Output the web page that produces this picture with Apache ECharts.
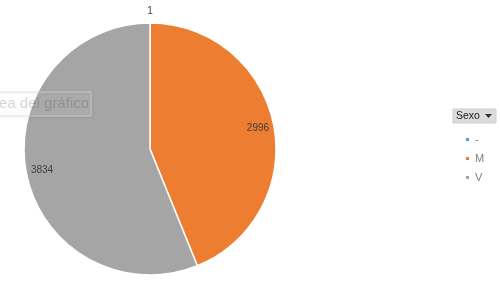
<!DOCTYPE html>
<html>
<head>
<meta charset="utf-8">
<script src="https://cdn.jsdelivr.net/npm/echarts@6/dist/echarts.min.js"></script>
<style>html,body{margin:0;padding:0;background:#fff}#c{width:500px;height:297px}</style>
</head>
<body>
<div id="c"></div>
<script>
const categories = ['-', 'M', 'V'];
const values = [1, 2996, 3834];
const colors = ['#5B9BD5', '#ED7D31', '#A5A5A5'];
const legendTitle = 'Sexo';
const ghostText = 'ea del gráfico';

const chart = echarts.init(document.getElementById('c'), null, {renderer: 'canvas'});

const labelFont = {fontFamily: 'Liberation Sans, Arial', fontSize: 10, color: '#404040'};

const mainData = categories.map((c, i) => ({name: c, value: values[i], itemStyle: {color: colors[i]}}));
// inner labels (large slices)
const innerLabelData = categories.map((c, i) => ({name: c, value: values[i], label: {show: values[i] > 10}}));
// outer label (tiny slice)
const outerLabelData = categories.map((c, i) => ({name: c, value: values[i], label: {show: values[i] <= 10}}));

const labelSeries = (r, data) => ({
  type: 'pie', center: [150, 149], radius: [0, r],
  startAngle: 90, clockwise: true, avoidLabelOverlap: false,
  itemStyle: {color: 'rgba(0,0,0,0)'},
  label: Object.assign({position: 'inside', formatter: '{c}'}, labelFont),
  labelLine: {show: false},
  data: data, silent: true, legendHoverLink: false
});

chart.setOption({
  animation: false,
  legend: {
    orient: 'vertical', left: 459, top: 129,
    itemWidth: 5, itemHeight: 5, itemGap: 8,
    icon: 'rect',
    data: categories,
    textStyle: {fontFamily: 'Liberation Sans, Arial', fontSize: 11, color: '#7f7f7f'},
    selectedMode: false
  },
  series: [
    {
      type: 'pie', center: [150, 149], radius: [0, 126],
      startAngle: 90, clockwise: true, avoidLabelOverlap: false,
      itemStyle: {borderColor: '#fff', borderWidth: 1.5},
      label: {show: false},
      labelLine: {show: false},
      data: mainData,
      silent: true
    },
    labelSeries(214, innerLabelData),
    labelSeries(270, outerLabelData)
  ],
  graphic: [
    {type: 'rect', z: 100, shape: {x: -10, y: 92, width: 101, height: 24},
     style: {fill: 'rgba(255,255,255,0.08)', stroke: 'rgba(215,215,215,0.7)', lineWidth: 1,
             shadowBlur: 3, shadowColor: 'rgba(0,0,0,0.15)', shadowOffsetX: 1, shadowOffsetY: 1}},
    {type: 'text', z: 101, x: -1, y: 104,
     style: {text: ghostText, fontFamily: 'Liberation Sans, Arial', fontSize: 15, fill: 'rgba(0,0,0,0.16)', verticalAlign: 'middle'}},
    {type: 'rect', shape: {x: 453, y: 109, width: 43, height: 14},
     style: {fill: '#dcdcdc', stroke: '#cfcfcf', lineWidth: 1}},
    {type: 'text', x: 456, y: 116,
     style: {text: legendTitle, fontFamily: 'Liberation Sans, Arial', fontSize: 10.5, fill: '#1a1a1a', verticalAlign: 'middle'}},
    {type: 'polygon', shape: {points: [[485, 114], [492, 114], [488.5, 118]]},
     style: {fill: '#333'}}
  ]
});
</script>
</body>
</html>
